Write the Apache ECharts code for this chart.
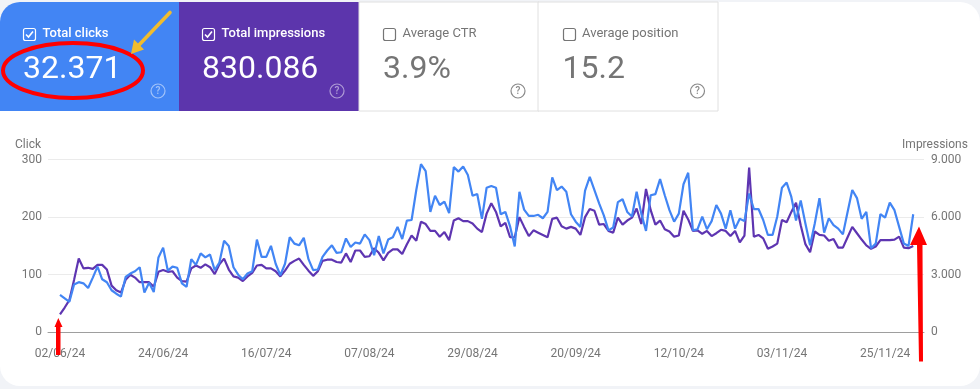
<!DOCTYPE html>
<html>
<head>
<meta charset="utf-8">
<title>Search performance</title>
<script src="https://cdn.jsdelivr.net/npm/echarts@6/dist/echarts.min.js"></script>
<style>
  html, body { margin: 0; padding: 0; background: #f1f3f7; }
  #main { width: 980px; height: 389px; }
</style>
</head>
<body>
<div id="main"></div>
<script>
// values, one per day starting 02/06/24
var startDay = [2024, 5, 2];
var clicks = [
  65,59,53,83,87,85,77,95,114,92,87,73,67,62,96,102,106,113,69,86,70,130,147,107,114,112,85,79,127,117,137,130,135,108,121,159,150,113,100,92,102,106,
  161,131,131,150,119,99,119,165,154,151,164,127,108,109,131,142,151,138,139,163,148,156,154,170,160,134,167,137,161,165,183,162,194,195,247,292,280,209,237,221,227,207,287,279,288,273,237,240,197,251,254,
  251,205,209,184,149,244,213,202,202,204,198,209,269,247,253,244,205,192,183,246,270,247,224,203,177,182,226,231,209,201,244,206,176,238,240,266,238,212,192,206,257,277,177,179,201,179,193,221,
  206,180,212,180,197,193,241,214,214,195,169,169,201,251,260,235,194,229,189,151,189,233,173,198,186,180,170,209,247,233,197,209,146,154,205,199,225,212,183,154,150,205
];
var impressions = [
  930,1290,1680,2730,3840,3330,3360,3300,3510,3510,3270,2430,2190,2070,2730,3000,2850,2610,2610,2610,2370,3150,3240,3150,3180,2850,2670,2640,3330,3480,3360,3540,3390,3030,3540,3840,3270,2910,2850,2670,2910,3090,
  3480,3510,3330,3330,3180,2910,3210,3570,3720,3840,3510,3210,2940,3180,3720,3780,3780,3660,3630,4110,3660,4260,4260,3930,3960,4380,4140,3750,4140,4320,4320,4080,4590,5040,4770,5760,5640,5280,5280,4980,5220,4800,5820,5940,5790,5790,5670,5400,5220,6180,6720,
  6270,5520,5700,4950,4950,6000,5490,5010,5310,5190,5070,4950,5910,5970,5520,5400,5490,5400,5070,6000,6420,6330,5610,5640,5280,5190,5970,5610,5820,5970,6450,5640,7470,6360,5610,5820,5370,5250,4980,5040,6330,5880,5280,5310,5130,5280,5010,5160,
  5340,5280,5010,5280,4680,5040,8580,4980,5070,4890,4350,4470,4620,5850,5730,6270,6750,5580,4590,4170,5250,5070,5040,4770,4860,4410,4410,4950,5490,5160,4830,4530,4350,4470,4800,4800,4800,4830,4980,4410,4380,4500
];
var tickDays = [0, 22, 44, 66, 88, 110, 132, 154, 176];
var cardTitles = ['Total clicks', 'Total impressions', 'Average CTR', 'Average position'];
var cardValues = ['32.371', '830.086', '3.9%', '15.2'];

var BLUE = '#4285f4', PURPLE = '#5e35b1', GREY = '#757575';
var FONT = 'Roboto, sans-serif';

function pad(n) { return n < 10 ? '0' + n : '' + n; }
function fmtDay(i) {
  var d = new Date(startDay[0], startDay[1], startDay[2] + i);
  return pad(d.getDate()) + '/' + pad(d.getMonth() + 1) + '/' + pad(d.getFullYear() % 100);
}
function thousands(v) {
  return v === 0 ? '0' : (v / 1000).toFixed(3);
}

// the four tiles on top
function cardGraphics() {
  var out = [];
  var xs = [0, 179, 359, 538], offs = [0, 0, 1, 1.5], w = 180, h = 109;
  cardTitles.forEach(function (title, i) {
    var on = i < 2, x = xs[i] + offs[i];
    var fill = i === 0 ? BLUE : i === 1 ? '#5c35ac' : '#fff';
    out.push({
      type: 'rect', z: 1,
      shape: { x: xs[i], y: 2, width: i === 0 ? 179 : w, height: h, r: i === 0 ? [20, 0, 0, 0] : 0 },
      style: on ? { fill: fill } : { fill: fill, stroke: '#e0e0e0', lineWidth: 1 }
    });
    out.push({
      type: 'rect', z: 2,
      shape: { x: Math.round(x) + 23.5, y: 28.5, width: 12, height: 12, r: 2 },
      style: { fill: 'none', stroke: on ? '#fff' : GREY, lineWidth: 1.2 }
    });
    if (on) {
      out.push({
        type: 'polyline', z: 2,
        shape: { points: [[x + 26, 34.5], [x + 28.5, 37], [x + 33, 31.5]] },
        style: { fill: 'none', stroke: '#fff', lineWidth: 1.6 }
      });
    }
    out.push({
      type: 'text', z: 2, x: x + 42.5, y: 33.5,
      style: { text: title, font: (on ? '500 ' : '400 ') + '13px ' + FONT, fill: on ? '#fff' : GREY, textVerticalAlign: 'middle' }
    });
    out.push({
      type: 'text', z: 2, x: x + 23, y: 70,
      style: { text: cardValues[i], font: '400 32px ' + FONT, fill: on ? '#fff' : GREY, textVerticalAlign: 'middle' }
    });
    var helpColor = on ? 'rgba(255,255,255,0.5)' : '#8a8a8a';
    out.push({
      type: 'circle', z: 2,
      shape: { cx: x + 158, cy: 91, r: 7 },
      style: { fill: 'none', stroke: helpColor, lineWidth: 1.2 }
    });
    out.push({
      type: 'text', z: 2, x: x + 158, y: 91.5,
      style: { text: '?', font: '500 10px ' + FONT, fill: helpColor, textAlign: 'center', textVerticalAlign: 'middle' }
    });
  });
  return out;
}

// the hand drawn marks on the screenshot
function markGraphics() {
  return [
    { type: 'ellipse', z: 50, shape: { cx: 73, cy: 70.5, rx: 70, ry: 27.5 }, style: { fill: 'none', stroke: '#f00', lineWidth: 4 } },
    { type: 'line', z: 50, shape: { x1: 170, y1: 12.5, x2: 138, y2: 46 }, style: { stroke: '#f0bc2e', lineWidth: 3.6, lineCap: 'round' } },
    { type: 'polygon', z: 50, shape: { points: [[131, 54], [134, 39.5], [144, 49.5]] }, style: { fill: '#f0bc2e' } },
    { type: 'polygon', z: 50, shape: { points: [[56, 355], [60.5, 355], [60.5, 327], [62.5, 327], [58.3, 318], [54.5, 327], [56, 327]] }, style: { fill: '#f00' } },
    { type: 'polygon', z: 50, shape: { points: [[919, 361.5], [923, 361.5], [922.5, 245], [927, 245], [919, 226.5], [910, 245], [917, 245]] }, style: { fill: '#f00' } }
  ];
}

var chart = echarts.init(document.getElementById('main'));
chart.setOption({
  animation: false,
  backgroundColor: '#f1f3f7',
  textStyle: { fontFamily: FONT },
  graphic: {
    elements: [
      { type: 'rect', z: -10, shape: { x: 0, y: 2, width: 980, height: 384, r: 20 }, style: { fill: '#fff' } }
    ].concat(cardGraphics(), markGraphics())
  },
  grid: { left: 48, right: 56, top: 159.5, height: 172.8 },
  xAxis: {
    type: 'value',
    min: -2.56,
    max: 184.3,
    axisLine: { lineStyle: { color: '#9e9e9e', width: 1 } },
    axisTick: { show: false },
    splitLine: { show: false },
    axisLabel: {
      color: GREY, fontSize: 12, margin: 16, showMinLabel: true, showMaxLabel: true,
      customValues: tickDays,
      formatter: fmtDay
    }
  },
  yAxis: [
    {
      type: 'value', min: 0, max: 300, interval: 100,
      name: 'Click', nameLocation: 'end', nameGap: 9,
      nameTextStyle: { color: GREY, fontSize: 12, align: 'right', padding: [0, 19, 0, 0] },
      axisLine: { show: false }, axisTick: { show: false },
      splitLine: { lineStyle: { color: '#ebebeb', width: 1 } },
      axisLabel: { color: GREY, fontSize: 12, margin: 6, padding: [4, 0, 0, 0] }
    },
    {
      type: 'value', min: 0, max: 9000, interval: 3000,
      name: 'Impressions', nameLocation: 'end', nameGap: 9,
      nameTextStyle: { color: GREY, fontSize: 12, align: 'center', padding: [0, 0, 0, 22] },
      axisLine: { show: false }, axisTick: { show: false }, splitLine: { show: false },
      axisLabel: { color: GREY, fontSize: 12, margin: 7, padding: [4, 0, 0, 0], formatter: thousands }
    }
  ],
  series: [
    {
      name: cardTitles[1], type: 'line', yAxisIndex: 1, symbol: 'none', z: 3,
      lineStyle: { color: PURPLE, width: 2.2 },
      data: impressions.map(function (v, i) { return [i, v]; })
    },
    {
      name: cardTitles[0], type: 'line', yAxisIndex: 0, symbol: 'none', z: 4,
      lineStyle: { color: BLUE, width: 2.2 },
      data: clicks.map(function (v, i) { return [i, v]; })
    }
  ]
});
</script>
</body>
</html>
